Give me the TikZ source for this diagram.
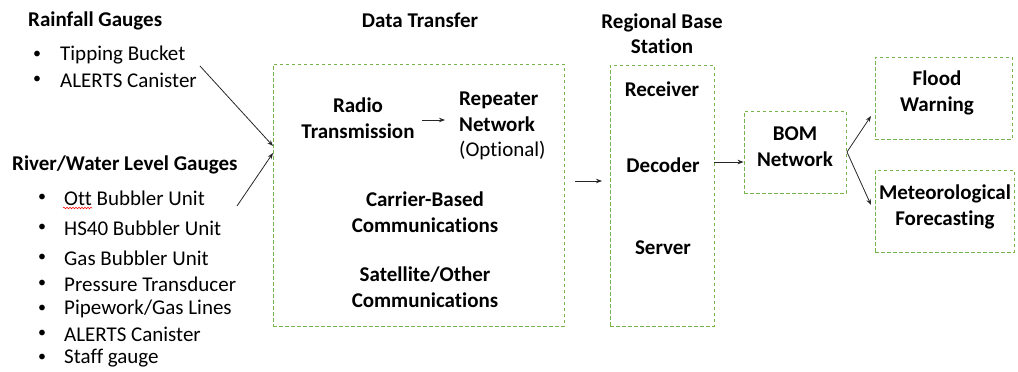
\documentclass[tikz,border=0pt]{standalone}
\usepackage{fontspec}
\setmainfont{Carlito}[Ligatures={NoCommon,NoRare,NoContextual}]
\usetikzlibrary{arrows.meta,decorations.pathmorphing}
\definecolor{boxgreen}{RGB}{118,180,76}
\tikzset{
  dbox/.style={draw=boxgreen,line width=0.9pt,dash pattern=on 3.5pt off 2.5pt,minimum width=#1},
  lbl/.style={font=\fontsize{21}{25.5}\selectfont\bfseries,align=center,inner sep=0pt},
  item/.style={font=\fontsize{21}{25.5}\selectfont,anchor=west,inner sep=0pt},
  bul/.style={font=\fontsize{16}{20}\selectfont,inner sep=0pt},
  arr/.style={-{Stealth[length=6pt,width=4.5pt]},line width=0.8pt,black!85}
}
\begin{document}
\begin{tikzpicture}[x=1pt,y=-1pt]
\useasboundingbox (0,0) rectangle (1018,372);
% left lists
\node[lbl,anchor=west] (rg) at (28,21) {Rainfall Gauges};
\node[bul] (b1) at (37,55) {•};
\node[item] (t1) at (60,55) {Tipping Bucket};
\node[bul] (b2) at (37,80) {•};
\node[item] (t2) at (60,80) {ALERTS Canister};
\node[lbl,anchor=west] (rw) at (12,165) {River/Water Level Gauges};
\node[bul] (b3) at (42,198) {•};
\node[item] (t3) at (64,198) {Ott Bubbler Unit};
\node[bul] (b4) at (42,228) {•};
\node[item] (t4) at (64,228) {HS40 Bubbler Unit};
\node[bul] (b5) at (42,258) {•};
\node[item] (t5) at (64,258) {Gas Bubbler Unit};
\node[bul] (b6) at (42,284) {•};
\node[item] (t6) at (64,284) {Pressure Transducer};
\node[bul] (b7) at (42,309) {•};
\node[item] (t7) at (64,309) {Pipework/Gas Lines};
\node[bul] (b8) at (42,334) {•};
\node[item] (t8) at (64,334) {ALERTS Canister};
\node[bul] (b9) at (42,358) {•};
\node[item] (t9) at (64,358) {Staff gauge};
\coordinate (sq1) at (63,208);
\coordinate (sq2) at (92,208);
\draw[red,line width=0.5pt,decorate,decoration={snake,amplitude=0.8pt,segment length=3pt}] (sq1) -- (sq2);
% data transfer
\node[lbl] (dtt) at (420,20) {Data Transfer};
\node[dbox=291pt,minimum height=262pt] (dt) at (418.5,195) {};
\node[lbl] (radio) at (358,118) {Radio\\Transmission};
\node[lbl,anchor=west,align=left] (rep) at (459,126) {Repeater\\Network\\{\mdseries (Optional)}};
\node[lbl] (car) at (425,212) {Carrier-Based\\Communications};
\node[lbl] (sat) at (425,287) {Satellite/Other\\Communications};
\coordinate (ra) at (422,120);
\coordinate (rb) at (445,120);
\draw[arr] (ra) -- (rb);
% left arrows
\coordinate (s1) at (200,66);
\coordinate (e1) at (273,146);
\coordinate (s2) at (237,206);
\coordinate (e2) at (273,153);
\draw[arr] (s1) -- (e1);
\draw[arr] (s2) -- (e2);
% regional base station
\node[lbl] (rbt) at (662,33.5) {Regional Base\\Station};
\node[dbox=104pt,minimum height=261pt] (rbs) at (662,195.5) {};
\node[lbl] (recv) at (662,89) {Receiver};
\node[lbl] (dec) at (663,165) {Decoder};
\node[lbl] (serv) at (663,248) {Server};
\coordinate (da) at (575,181);
\coordinate (db) at (602,181);
\draw[arr] (da) -- (db);
% BOM
\node[dbox=102pt,minimum height=82pt] (bomb) at (795,152) {};
\node[lbl] (bom) at (795,146.5) {BOM\\Network};
\draw[arr] (rbs.east |- 0,162) -- (bomb.west |- 0,162);
% outputs
\node[dbox=137pt,minimum height=82pt] (fb) at (943.5,98) {};
\node[lbl] (flood) at (937,93) {Flood\\Warning};
\node[dbox=139pt,minimum height=82pt] (mb) at (944.5,211) {};
\node[lbl] (met) at (945,207) {Meteorological\\Forecasting};
\coordinate (bo) at (847,152);
\coordinate (f1) at (871,116);
\coordinate (m1) at (871,205);
\draw[arr] (bo) -- (f1);
\draw[arr] (bo) -- (m1);
\end{tikzpicture}
\end{document}
